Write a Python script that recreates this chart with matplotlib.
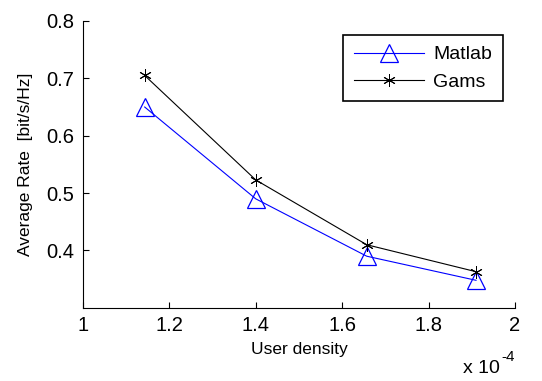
import numpy as np
import matplotlib
matplotlib.use("Agg")
import matplotlib.pyplot as plt

plt.rcParams['font.family'] = ['Liberation Sans', 'DejaVu Sans']

# data (x in units of 1e-4)
density = [1.143, 1.400, 1.657, 1.910]
matlab_rate = [0.650, 0.490, 0.390, 0.348]
gams_rate = [0.705, 0.523, 0.410, 0.363]

xticks = [1, 1.2, 1.4, 1.6, 1.8, 2]
xlabels = ['1', '1.2', '1.4', '1.6', '1.8', '2']
yticks = [0.4, 0.5, 0.6, 0.7, 0.8]
ylabels = ['0.4', '0.5', '0.6', '0.7', '0.8']

fig = plt.figure(figsize=(5.42, 3.81), dpi=100)
ax = fig.add_axes([0.153, 0.192, 0.797, 0.753])

ax.plot(density, matlab_rate, color='#0000ff', lw=0.8, marker='^',
        markersize=13, markerfacecolor='none', markeredgecolor='#0000ff',
        markeredgewidth=0.9, label='Matlab')
ax.plot(density, gams_rate, color='black', lw=0.8, marker=(6, 2, 0),
        markersize=9, markeredgewidth=0.7, label='Gams')

ax.set_xlim(1, 2)
ax.set_ylim(0.3, 0.8)
ax.set_xticks(xticks)
ax.set_xticklabels(xlabels)
ax.set_yticks(yticks)
ax.set_yticklabels(ylabels)
ax.tick_params(direction='in', length=4, width=0.8, labelsize=14.5, pad=6)

for s in ['top', 'right']:
    ax.spines[s].set_visible(False)
for s in ['left', 'bottom']:
    ax.spines[s].set_linewidth(0.8)

ax.set_xlabel('User density', fontsize=12.5, labelpad=5)
ax.set_ylabel('Average Rate  [bit/s/Hz]', fontsize=12.5, labelpad=10)

leg = ax.legend(loc='upper right', bbox_to_anchor=(0.972, 0.951), fontsize=14,
                fancybox=False, framealpha=1, edgecolor='black',
                handlelength=3.6, borderpad=0.55, labelspacing=0.5,
                handletextpad=0.5, borderaxespad=0.0)
leg.get_frame().set_linewidth(1.2)

fig.text(0.854, 0.01, 'x 10', fontsize=14, ha='left', va='bottom')
fig.text(0.925, 0.045, '-4', fontsize=11, ha='left', va='bottom')

fig.savefig('out.png', dpi=100)
